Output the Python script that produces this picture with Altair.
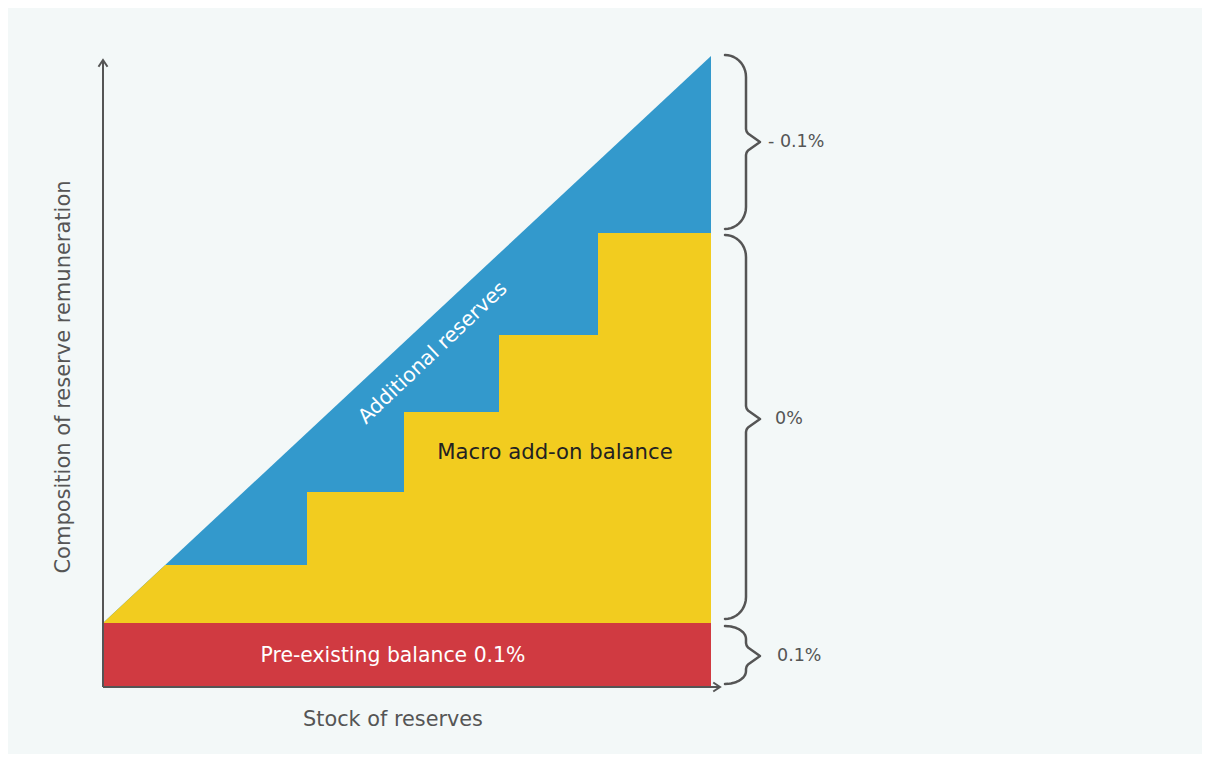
import altair as alt
import pandas as pd
import numpy as np

# ---- values (units: 1 unit ~ 1 px, origin at the axes' corner)
step_x = [62, 204, 301, 396, 495, 608]      # where each stair step starts (last = right edge)
step_y = [122, 195, 275, 352, 454]          # level of each stair step
diag_x = [0, 609]                           # diagonal edge (total reserves)
diag_y = [64, 632]
red_x = [0, 608]
red_y = [0, 64]
axis_end = [617, 627]                       # x-axis end, y-axis end

brace_lo = [3, 68, 458]
brace_hi = [61, 452, 632]
brace_tip = [31, 268, 545]
brace_text = ["0.1%", "0%", "- 0.1%"]
brace_text_x = [674, 672, 665]

region_text = ["Pre-existing balance 0.1%", "Macro add-on balance", "Additional reserves"]
region_x = [290, 452, 330]
region_y = [31, 234, 334]
region_angle = [0, 0, 316.5]
region_color = ["#ffffff", "#222222", "#ffffff"]
region_size = [20.4, 21.2, 20.4]

x_title = "Stock of reserves"
y_title = "Composition of reserve remuneration"

GREY = "#555555"
FONT = "DejaVu Sans"
W, H = 1194, 746

xs = alt.Scale(domain=[-95, W - 95], nice=False, zero=False)
ys = alt.Scale(domain=[-67, H - 67], nice=False, zero=False)


def diag(x):
    return diag_y[0] + (x - diag_x[0]) * (diag_y[1] - diag_y[0]) / (diag_x[1] - diag_x[0])


def X():
    return alt.X("x:Q", scale=xs, axis=None)


def Y():
    return alt.Y("y:Q", scale=ys, axis=None, stack=None)


# blue: whole triangle under the diagonal
blue_df = pd.DataFrame({"x": [diag_x[0], step_x[-1]], "y": [diag(diag_x[0]), diag(step_x[-1])]})
blue = alt.Chart(blue_df).mark_area(color="#3399cc", opacity=1, interpolate="linear").encode(
    x=X(), y=Y())

# yellow: corner triangle + staircase drawn over the blue
ytri_df = pd.DataFrame({"x": [diag_x[0], step_x[0]], "y": [diag(diag_x[0]), diag(step_x[0])]})
ytri = alt.Chart(ytri_df).mark_area(color="#f2cc1f", opacity=1, interpolate="linear").encode(
    x=X(), y=Y())
stairs_df = pd.DataFrame({"x": step_x, "y": step_y + [step_y[-1]]})
stairs = alt.Chart(stairs_df).mark_area(color="#f2cc1f", opacity=1, interpolate="step-after").encode(
    x=X(), y=Y())

red_df = pd.DataFrame({"x": [red_x[0]], "x2": [red_x[1]], "y": [red_y[0]], "y2": [red_y[1]]})
red = alt.Chart(red_df).mark_rect(color="#d03a41").encode(
    x=X(), x2="x2:Q", y=alt.Y("y:Q", scale=ys, axis=None), y2="y2:Q")

# axes as lines
axes_df = pd.DataFrame({"x": [0, 0], "x2": [axis_end[0], 0], "y": [0, 0], "y2": [0, axis_end[1]]})
axes = alt.Chart(axes_df).mark_rule(color=GREY, strokeWidth=2).encode(
    x=X(), x2="x2:Q", y=alt.Y("y:Q", scale=ys, axis=None), y2="y2:Q")

arrow_up = alt.Chart(pd.DataFrame({"x": [0], "y": [axis_end[1]]})).mark_point(
    shape="M-1,1.5L0,0L1,1.5", size=81, filled=False, color=GREY, strokeWidth=2, opacity=1,
    strokeJoin="miter").encode(x=X(), y=alt.Y("y:Q", scale=ys, axis=None))
arrow_right = alt.Chart(pd.DataFrame({"x": [axis_end[0]], "y": [0]})).mark_point(
    shape="M-1.5,-1L0,0L-1.5,1", size=81, filled=False, color=GREY, strokeWidth=2, opacity=1,
    strokeJoin="miter").encode(x=X(), y=alt.Y("y:Q", scale=ys, axis=None))

# braces
BX0, BX1, BTIP = 622, 643, 657
rows = []
for b, (lo, hi, tip) in enumerate(zip(brace_lo, brace_hi, brace_tip)):
    r = min(22, (hi - lo) / 4.5)
    pts = []
    t = np.linspace(0, np.pi / 2, 12)
    pts += [(BX0 + (BX1 - BX0) * np.sin(a), hi - r + r * np.cos(a)) for a in t]
    pts += [(BX1, tip + 13), (BX1 + 0.6, tip + 10.5), (BX1 + 2, tip + 8.5), (BTIP, tip),
            (BX1 + 2, tip - 8.5), (BX1 + 0.6, tip - 10.5), (BX1, tip - 13)]
    pts += [(BX0 + (BX1 - BX0) * np.cos(a), lo + r - r * np.sin(a)) for a in t]
    for k, (px, py) in enumerate(pts):
        rows.append({"b": b, "o": k, "x": px, "y": py})
braces = alt.Chart(pd.DataFrame(rows)).mark_line(
    color=GREY, strokeWidth=2.5, strokeCap="round", strokeJoin="round").encode(
    x=X(), y=alt.Y("y:Q", scale=ys, axis=None), detail="b:N", order="o:Q")

brace_lbl = alt.Chart(pd.DataFrame({"x": brace_text_x, "y": brace_tip, "t": brace_text})).mark_text(
    align="left", baseline="middle", font=FONT, fontSize=17.5, color=GREY).encode(
    x=X(), y=alt.Y("y:Q", scale=ys, axis=None), text="t:N")

region_df = pd.DataFrame({"x": region_x, "y": region_y, "t": region_text,
                          "a": region_angle, "c": region_color, "s": region_size})
region_lbl = alt.Chart(region_df).mark_text(
    align="center", baseline="middle", font=FONT).encode(
    x=X(), y=alt.Y("y:Q", scale=ys, axis=None), text="t:N",
    angle=alt.Angle("a:Q", scale=None), color=alt.Color("c:N", scale=None),
    size=alt.Size("s:Q", scale=None))

xt = alt.Chart(pd.DataFrame({"x": [290], "y": [-33], "t": [x_title]})).mark_text(
    align="center", baseline="middle", font=FONT, fontSize=20.8, color=GREY).encode(
    x=X(), y=alt.Y("y:Q", scale=ys, axis=None), text="t:N")
yt = alt.Chart(pd.DataFrame({"x": [-39], "y": [310], "t": [y_title]})).mark_text(
    align="center", baseline="middle", font=FONT, fontSize=21, color=GREY, angle=270).encode(
    x=X(), y=alt.Y("y:Q", scale=ys, axis=None), text="t:N")

chart = alt.layer(blue, ytri, stairs, red, axes, arrow_up, arrow_right, braces, brace_lbl,
                  region_lbl, xt, yt).properties(
    width=W, height=H, autosize=alt.AutoSizeParams(type="none"), padding=0,
    background="#f3f8f8").configure_view(stroke=None)

chart.save("out.html", embed_options={"renderer": "svg", "actions": False})
